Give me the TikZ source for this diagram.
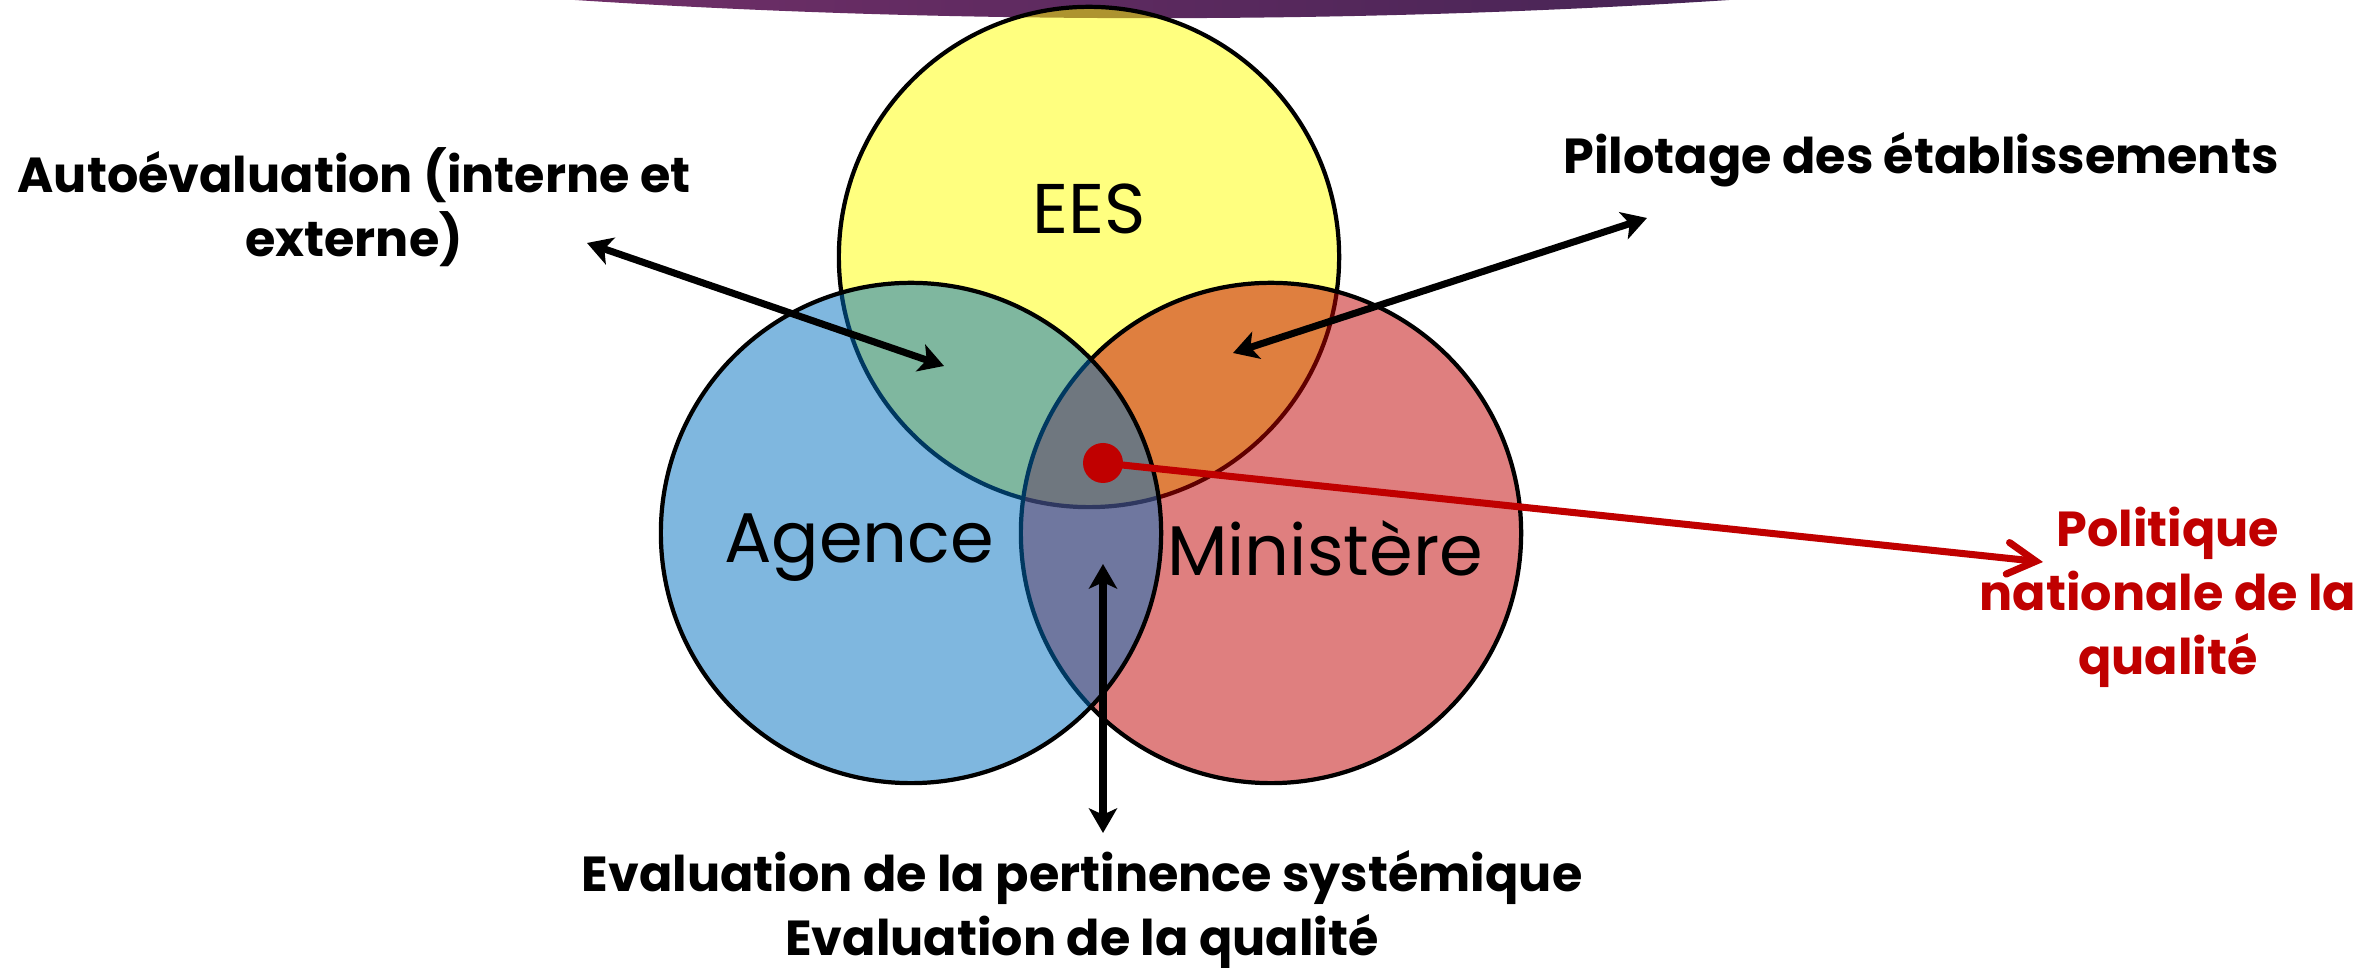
\documentclass[tikz,border=0pt]{standalone}
\usepackage{fontspec}
\setmainfont{Poppins}
\usetikzlibrary{arrows.meta}
\definecolor{ylw}{HTML}{FFFF00}
\definecolor{blu}{HTML}{0070C0}
\definecolor{rd}{HTML}{C00000}
\definecolor{purpL}{HTML}{702F68}
\definecolor{purpM}{HTML}{682C62}
\definecolor{purpR}{HTML}{462455}
\tikzset{
  venn/.style={circle, minimum size=5cm, inner sep=0pt, draw=black, line width=1.2pt, fill opacity=0.5, draw opacity=1},
  vlabel/.style={font=\fontsize{20}{24}\selectfont, text=black},
  blabel/.style={font=\fontsize{14}{18.2}\selectfont\bfseries, align=center, text=black},
  blarrow/.style={line width=2pt, {Stealth[length=7pt,width=8pt,inset=1.8pt]}-{Stealth[length=7pt,width=8pt,inset=1.8pt]}},
}
\begin{document}
\begin{tikzpicture}[x=0.01cm, y=-0.01cm]
\useasboundingbox (0,0) rectangle (2372,968);
% top purple band
\begin{scope}
  \clip (0,0) rectangle (2372,968);
  \clip (1152,-282) ellipse [x radius=16.8cm, y radius=3cm];
  \shade[left color=purpL, middle color=purpM, right color=purpR] (570,-5) rectangle (1735,30);
\end{scope}
% circles
\node[venn, fill=ylw] (ees) at (1089,257) {};
\node[venn, fill=rd] (min) at (1271,533) {};
\node[venn, fill=blu] (age) at (911,533) {};
% circle labels
\node[vlabel] (leesl) at (1089,209) {EES};
\node[vlabel] (lage) at (859,548) {Agence};
\node[vlabel] (lmin) at (1325,548) {Ministère};
% outer labels
\node[blabel] (auto) at (354,207) {Autoévaluation (interne et\\externe)};
\node[blabel] (pilo) at (1921,160) {Pilotage des établissements};
\node[blabel, text=rd] (poli) at (2168,597) {Politique\\nationale de la\\qualité};
\node[blabel] (eval) at (1082,910) {Evaluation de la pertinence systémique\\Evaluation de la qualité};
% arrows
\coordinate (a1) at (587,243);
\coordinate (a2) at (944,366);
\draw[blarrow] (a1) -- (a2);
\coordinate (b1) at (1233,353);
\coordinate (b2) at (1647,218);
\draw[blarrow] (b1) -- (b2);
\coordinate (c1) at (1103,564);
\coordinate (c2) at (1103,833);
\draw[blarrow] (c1) -- (c2);
% red pointer
\node[circle, fill=rd, inner sep=0pt, minimum size=0.4cm] (dot) at (1103,463) {};
\coordinate (d2) at (2043,562);
\draw[rd, line width=2pt, -{Straight Barb[length=8pt,width=9pt,line cap=round]}] (dot.center) -- (d2);
\end{tikzpicture}
\end{document}
